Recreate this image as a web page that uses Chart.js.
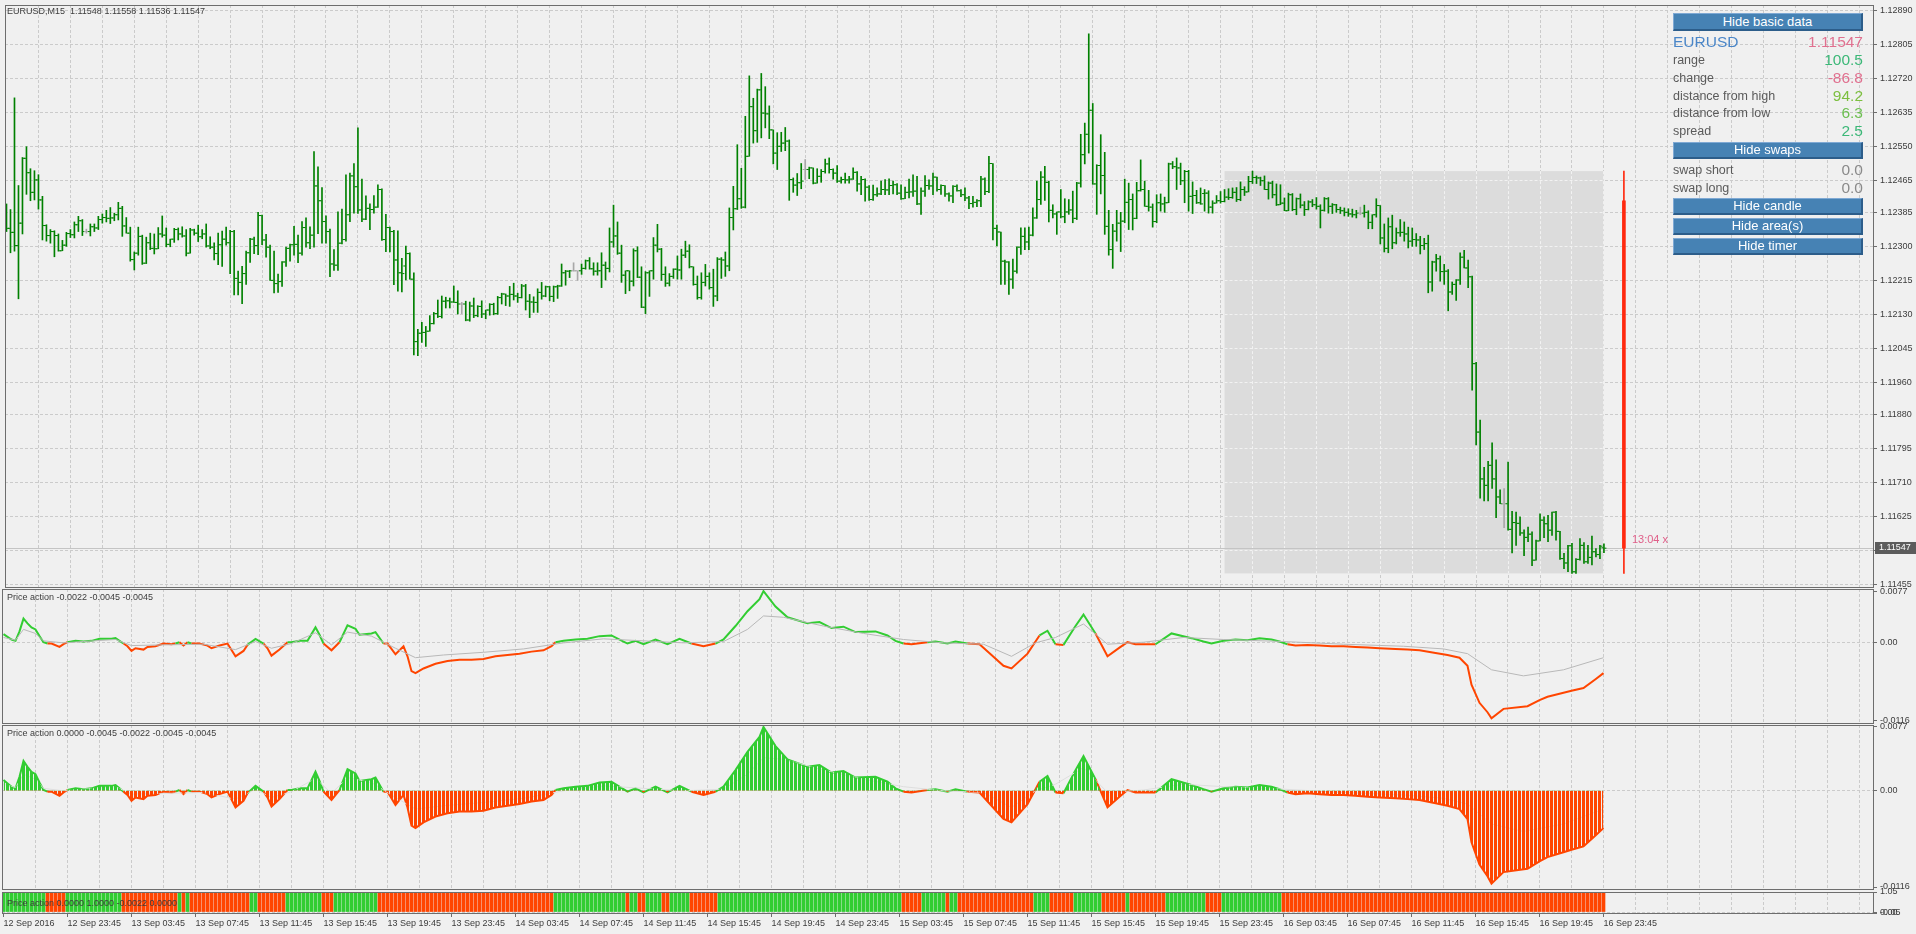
<!DOCTYPE html>
<html>
<head>
<meta charset="utf-8">
<title>EURUSD,M15</title>
<script src="https://cdn.jsdelivr.net/npm/chart.js@4.4.0/dist/chart.umd.min.js"></script>
<style>
  body { margin: 0; width: 1916px; height: 934px; overflow: hidden; background: #f0f0f0;
         font-family: "Liberation Sans", Arial, sans-serif; position: relative; }
  canvas { position: absolute; left: 0; }
  .t { position: absolute; left: 7px; font-size: 9px; line-height: 10px; color: #3c3c3c; white-space: pre; }
  .btn { position: absolute; left: 1673px; width: 190px; box-sizing: border-box; background: #4682b4; color: #fff;
         font-size: 13px; text-align: center; border-top: 1px solid #7fa9d4; border-left: 1px solid #7fa9d4;
         border-bottom: 2px solid #2c5d8a; border-right: 2px solid #2c5d8a; }
  .il { position: absolute; left: 1673px; font-size: 12.5px; line-height: 14px; color: #5a5a5a; white-space: nowrap; }
  .iv { position: absolute; right: 53px; font-size: 15.5px; line-height: 17px; text-align: right; white-space: nowrap; }
</style>
</head>
<body>
<canvas id="cMain" width="1916" height="600" style="top:0"></canvas>
<canvas id="cPa1" width="1916" height="150" style="top:580px"></canvas>
<canvas id="cPa2" width="1916" height="180" style="top:716px"></canvas>
<canvas id="cStrip" width="1916" height="54" style="top:880px"></canvas>

<div class="t" style="top:6px">EURUSD,M15  1.11548 1.11558 1.11536 1.11547</div>
<div class="t" style="top:592px">Price action -0.0022 -0.0045 -0.0045</div>
<div class="t" style="top:728px">Price action 0.0000 -0.0045 -0.0022 -0.0045 -0.0045</div>
<div class="t" style="top:898px">Price action 0.0000 1.0000 -0.0022 0.0000</div>

<div class="btn" style="top:13px;height:18px;line-height:15px">Hide basic data</div>
<div class="il" style="top:33px;font-size:15.5px;line-height:17px;color:#4a86c8">EURUSD</div>
<div class="iv" style="top:33px;color:#e0708f">1.11547</div>
<div class="il" style="top:53px">range</div>
<div class="iv" style="top:51px;color:#3cb878">100.5</div>
<div class="il" style="top:71px">change</div>
<div class="iv" style="top:69px;color:#e0708f">-86.8</div>
<div class="il" style="top:89px">distance from high</div>
<div class="iv" style="top:87px;color:#7cbf3f">94.2</div>
<div class="il" style="top:106px">distance from low</div>
<div class="iv" style="top:104px;color:#6cbf50">6.3</div>
<div class="il" style="top:124px">spread</div>
<div class="iv" style="top:122px;color:#3cb878">2.5</div>
<div class="btn" style="top:142px;height:17px;line-height:14px">Hide swaps</div>
<div class="il" style="top:163px">swap short</div>
<div class="iv" style="top:161px;color:#8a8a8a">0.0</div>
<div class="il" style="top:181px">swap long</div>
<div class="iv" style="top:179px;color:#8a8a8a">0.0</div>
<div class="btn" style="top:198px;height:17px;line-height:14px">Hide candle</div>
<div class="btn" style="top:218px;height:17px;line-height:14px">Hide area(s)</div>
<div class="btn" style="top:238px;height:17px;line-height:14px">Hide timer</div>

<script>
// ---- data ----
const timeLabels = ['12 Sep 2016','12 Sep 23:45','13 Sep 03:45','13 Sep 07:45','13 Sep 11:45','13 Sep 15:45',
  '13 Sep 19:45','13 Sep 23:45','14 Sep 03:45','14 Sep 07:45','14 Sep 11:45','14 Sep 15:45','14 Sep 19:45',
  '14 Sep 23:45','15 Sep 03:45','15 Sep 07:45','15 Sep 11:45','15 Sep 15:45','15 Sep 19:45','15 Sep 23:45',
  '16 Sep 03:45','16 Sep 07:45','16 Sep 11:45','16 Sep 15:45','16 Sep 19:45','16 Sep 23:45'];

const priceTicks = [1.12890,1.12805,1.12720,1.12635,1.12550,1.12465,1.12385,1.12300,1.12215,1.12130,
  1.12045,1.11960,1.11880,1.11795,1.11710,1.11625,1.11540,1.11455];
const paTicks = [0.0077, 0, -0.0116];
const stripTicks = [1.05, 0, -0.05];

// M15 bars, 12 Sep 19:45 .. 16 Sep 23:45
const barHigh = [
1.12407,1.12393,1.12672,1.12453,1.12523,1.12550,1.12495,1.12490,1.12480,1.12426,1.12355,1.12343,1.12340,1.12332,1.12316,1.12336,
1.12343,1.12362,1.12376,1.12368,1.12344,1.12357,1.12357,1.12376,1.12382,1.12391,1.12398,1.12384,1.12411,1.12401,1.12373,1.12349,
1.12287,1.12349,1.12329,1.12324,1.12334,1.12332,1.12348,1.12377,1.12347,1.12319,1.12346,1.12347,1.12350,1.12343,1.12346,1.12344,
1.12354,1.12343,1.12357,1.12325,1.12310,1.12334,1.12339,1.12349,1.12341,1.12341,1.12239,1.12251,1.12289,1.12321,1.12324,1.12386,
1.12379,1.12331,1.12304,1.12289,1.12232,1.12263,1.12299,1.12307,1.12351,1.12329,1.12363,1.12372,1.12350,1.12538,1.12500,1.12448,
1.12377,1.12344,1.12293,1.12387,1.12394,1.12480,1.12484,1.12508,1.12597,1.12469,1.12427,1.12407,1.12428,1.12455,1.12445,1.12381,
1.12349,1.12341,1.12340,1.12271,1.12302,1.12285,1.12235,1.12094,1.12111,1.12101,1.12128,1.12136,1.12167,1.12177,1.12174,1.12172,
1.12202,1.12190,1.12161,1.12164,1.12162,1.12172,1.12153,1.12165,1.12142,1.12158,1.12159,1.12176,1.12184,1.12182,1.12201,1.12209,
1.12184,1.12206,1.12206,1.12181,1.12175,1.12195,1.12211,1.12202,1.12201,1.12202,1.12204,1.12257,1.12241,1.12241,1.12260,1.12240,
1.12257,1.12267,1.12273,1.12260,1.12260,1.12285,1.12262,1.12347,1.12404,1.12362,1.12304,1.12240,1.12240,1.12295,1.12300,1.12250,
1.12238,1.12240,1.12323,1.12356,1.12296,1.12250,1.12233,1.12245,1.12277,1.12294,1.12314,1.12305,1.12250,1.12227,1.12235,1.12256,
1.12235,1.12244,1.12273,1.12273,1.12287,1.12397,1.12451,1.12555,1.12496,1.12626,1.12727,1.12671,1.12694,1.12733,1.12700,1.12652,
1.12592,1.12585,1.12586,1.12598,1.12567,1.12472,1.12483,1.12508,1.12518,1.12499,1.12497,1.12495,1.12493,1.12519,1.12522,1.12495,
1.12503,1.12474,1.12484,1.12476,1.12497,1.12488,1.12476,1.12470,1.12453,1.12454,1.12447,1.12464,1.12468,1.12470,1.12464,1.12458,
1.12455,1.12449,1.12469,1.12480,1.12476,1.12447,1.12478,1.12467,1.12484,1.12474,1.12455,1.12453,1.12435,1.12453,1.12455,1.12443,
1.12447,1.12426,1.12426,1.12418,1.12476,1.12472,1.12526,1.12508,1.12354,1.12337,1.12267,1.12263,1.12269,1.12300,1.12347,1.12347,
1.12349,1.12397,1.12464,1.12488,1.12501,1.12464,1.12405,1.12387,1.12443,1.12420,1.12418,1.12439,1.12461,1.12581,1.12609,1.12832,
1.12658,1.12505,1.12580,1.12536,1.12391,1.12356,1.12391,1.12386,1.12469,1.12459,1.12432,1.12461,1.12517,1.12464,1.12441,1.12407,
1.12430,1.12432,1.12424,1.12509,1.12513,1.12522,1.12509,1.12491,1.12491,1.12462,1.12441,1.12447,1.12443,1.12440,1.12415,1.12428,
1.12438,1.12443,1.12445,1.12447,1.12448,1.12462,1.12450,1.12476,1.12489,1.12477,1.12474,1.12477,1.12462,1.12464,1.12457,1.12455,
1.12422,1.12434,1.12433,1.12422,1.12432,1.12413,1.12415,1.12418,1.12423,1.12405,1.12423,1.12423,1.12408,1.12406,1.12399,1.12397,
1.12395,1.12394,1.12391,1.12399,1.12404,1.12390,1.12380,1.12420,1.12403,1.12357,1.12372,1.12379,1.12347,1.12368,1.12362,1.12349,
1.12347,1.12333,1.12326,1.12321,1.12329,1.12264,1.12281,1.12277,1.12256,1.12243,1.12212,1.12218,1.12285,1.12291,1.12267,1.12227,
1.12011,1.11867,1.11749,1.11764,1.11810,1.11768,1.11693,1.11696,1.11762,1.11639,1.11637,1.11625,1.11593,1.11600,1.11588,1.11567,
1.11633,1.11625,1.11629,1.11637,1.11639,1.11589,1.11534,1.11554,1.11559,1.11521,1.11571,1.11561,1.11554,1.11577,1.11546,1.11554,
1.11558];

const barLow = [
1.12338,1.12285,1.12289,1.12170,1.12332,1.12431,1.12415,1.12417,1.12394,1.12317,1.12314,1.12309,1.12275,1.12289,1.12290,1.12301,
1.12323,1.12322,1.12338,1.12328,1.12334,1.12327,1.12338,1.12343,1.12359,1.12362,1.12358,1.12365,1.12367,1.12326,1.12334,1.12264,
1.12242,1.12279,1.12256,1.12258,1.12293,1.12282,1.12295,1.12324,1.12300,1.12300,1.12311,1.12317,1.12324,1.12277,1.12284,1.12329,
1.12313,1.12320,1.12299,1.12295,1.12267,1.12255,1.12251,1.12304,1.12233,1.12180,1.12180,1.12158,1.12206,1.12261,1.12283,1.12280,
1.12305,1.12274,1.12216,1.12185,1.12186,1.12201,1.12251,1.12264,1.12279,1.12260,1.12279,1.12299,1.12295,1.12299,1.12333,1.12309,
1.12309,1.12225,1.12241,1.12241,1.12307,1.12314,1.12363,1.12384,1.12383,1.12363,1.12368,1.12343,1.12384,1.12398,1.12316,1.12288,
1.12287,1.12205,1.12189,1.12187,1.12217,1.12219,1.12030,1.12028,1.12061,1.12051,1.12089,1.12107,1.12123,1.12122,1.12147,1.12147,
1.12161,1.12132,1.12133,1.12115,1.12114,1.12123,1.12125,1.12123,1.12120,1.12129,1.12130,1.12131,1.12157,1.12153,1.12151,1.12167,
1.12161,1.12172,1.12142,1.12123,1.12136,1.12136,1.12169,1.12175,1.12165,1.12163,1.12171,1.12201,1.12204,1.12223,1.12239,1.12216,
1.12231,1.12244,1.12244,1.12229,1.12229,1.12198,1.12217,1.12237,1.12299,1.12281,1.12211,1.12183,1.12190,1.12202,1.12223,1.12148,
1.12133,1.12176,1.12219,1.12287,1.12216,1.12201,1.12202,1.12221,1.12219,1.12219,1.12273,1.12247,1.12204,1.12169,1.12169,1.12202,
1.12194,1.12151,1.12165,1.12221,1.12226,1.12240,1.12342,1.12393,1.12396,1.12397,1.12526,1.12559,1.12561,1.12572,1.12597,1.12570,
1.12507,1.12493,1.12538,1.12540,1.12416,1.12436,1.12428,1.12445,1.12468,1.12470,1.12457,1.12459,1.12461,1.12484,1.12484,1.12469,
1.12461,1.12459,1.12459,1.12459,1.12468,1.12439,1.12430,1.12414,1.12416,1.12416,1.12426,1.12430,1.12430,1.12430,1.12432,1.12430,
1.12418,1.12420,1.12422,1.12426,1.12405,1.12381,1.12426,1.12443,1.12430,1.12439,1.12431,1.12426,1.12414,1.12410,1.12439,1.12425,
1.12415,1.12395,1.12399,1.12400,1.12400,1.12430,1.12435,1.12317,1.12302,1.12206,1.12206,1.12181,1.12196,1.12234,1.12281,1.12293,
1.12293,1.12327,1.12371,1.12406,1.12416,1.12362,1.12372,1.12331,1.12372,1.12360,1.12381,1.12360,1.12368,1.12449,1.12507,1.12534,
1.12456,1.12381,1.12432,1.12331,1.12279,1.12246,1.12314,1.12288,1.12360,1.12343,1.12342,1.12370,1.12439,1.12401,1.12389,1.12349,
1.12360,1.12389,1.12386,1.12410,1.12495,1.12443,1.12455,1.12410,1.12389,1.12383,1.12408,1.12406,1.12389,1.12384,1.12384,1.12409,
1.12409,1.12412,1.12418,1.12421,1.12413,1.12415,1.12428,1.12437,1.12458,1.12458,1.12453,1.12443,1.12419,1.12422,1.12403,1.12405,
1.12390,1.12390,1.12390,1.12380,1.12397,1.12378,1.12392,1.12400,1.12394,1.12347,1.12389,1.12384,1.12383,1.12386,1.12383,1.12377,
1.12376,1.12374,1.12372,1.12380,1.12374,1.12345,1.12345,1.12374,1.12307,1.12287,1.12285,1.12295,1.12307,1.12326,1.12314,1.12297,
1.12301,1.12301,1.12282,1.12293,1.12185,1.12189,1.12239,1.12214,1.12206,1.12140,1.12181,1.12166,1.12206,1.12247,1.12198,1.11942,
1.11805,1.11672,1.11665,1.11665,1.11696,1.11623,1.11658,1.11598,1.11592,1.11535,1.11554,1.11579,1.11528,1.11563,1.11503,1.11517,
1.11565,1.11573,1.11563,1.11579,1.11567,1.11519,1.11496,1.11488,1.11484,1.11484,1.11517,1.11509,1.11509,1.11505,1.11525,1.11521,
1.11536];

const barOpen = [
1.12347,1.12346,1.12336,1.12303,1.12359,1.12521,1.12485,1.12436,1.12467,1.12417,1.12353,1.12328,1.12338,1.12328,1.12290,1.12304,
1.12333,1.12330,1.12355,1.12365,1.12338,1.12338,1.12350,1.12347,1.12368,1.12373,1.12371,1.12372,1.12380,1.12396,1.12352,1.12334,
1.12268,1.12284,1.12326,1.12259,1.12310,1.12296,1.12295,1.12332,1.12329,1.12306,1.12319,1.12343,1.12332,1.12327,1.12284,1.12342,
1.12334,1.12325,1.12332,1.12302,1.12299,1.12283,1.12305,1.12319,1.12310,1.12338,1.12221,1.12211,1.12233,1.12285,1.12319,1.12303,
1.12378,1.12317,1.12299,1.12216,1.12208,1.12213,1.12262,1.12296,1.12305,1.12306,1.12284,1.12348,1.12310,1.12329,1.12452,1.12415,
1.12363,1.12338,1.12257,1.12254,1.12309,1.12318,1.12380,1.12477,1.12450,1.12392,1.12369,1.12396,1.12393,1.12399,1.12443,1.12318,
1.12348,1.12338,1.12267,1.12235,1.12252,1.12283,1.12219,1.12063,1.12084,1.12086,1.12089,1.12108,1.12133,1.12126,1.12164,1.12165,
1.12162,1.12161,1.12157,1.12157,1.12117,1.12152,1.12128,1.12151,1.12132,1.12142,1.12156,1.12133,1.12173,1.12182,1.12177,1.12181,
1.12177,1.12173,1.12202,1.12164,1.12162,1.12161,1.12186,1.12177,1.12200,1.12176,1.12200,1.12202,1.12235,1.12239,1.12240,1.12240,
1.12240,1.12246,1.12265,1.12245,1.12239,1.12240,1.12254,1.12246,1.12312,1.12327,1.12284,1.12229,1.12240,1.12214,1.12290,1.12224,
1.12149,1.12235,1.12240,1.12304,1.12294,1.12231,1.12209,1.12226,1.12244,1.12242,1.12279,1.12289,1.12250,1.12206,1.12173,1.12211,
1.12226,1.12198,1.12177,1.12269,1.12267,1.12252,1.12373,1.12395,1.12420,1.12399,1.12526,1.12650,1.12590,1.12692,1.12634,1.12632,
1.12592,1.12534,1.12551,1.12559,1.12564,1.12468,1.12454,1.12460,1.12493,1.12493,1.12497,1.12459,1.12476,1.12488,1.12507,1.12493,
1.12484,1.12464,1.12468,1.12467,1.12469,1.12486,1.12457,1.12468,1.12449,1.12418,1.12430,1.12432,1.12443,1.12442,1.12453,1.12455,
1.12434,1.12420,1.12436,1.12437,1.12439,1.12407,1.12439,1.12453,1.12452,1.12474,1.12443,1.12453,1.12432,1.12427,1.12451,1.12440,
1.12430,1.12422,1.12408,1.12411,1.12415,1.12469,1.12438,1.12508,1.12346,1.12337,1.12264,1.12262,1.12219,1.12239,1.12299,1.12326,
1.12312,1.12329,1.12372,1.12418,1.12474,1.12461,1.12391,1.12382,1.12387,1.12375,1.12387,1.12392,1.12371,1.12459,1.12530,1.12581,
1.12641,1.12457,1.12503,1.12478,1.12351,1.12293,1.12339,1.12359,1.12364,1.12411,1.12418,1.12371,1.12440,1.12443,1.12401,1.12399,
1.12363,1.12410,1.12407,1.12410,1.12507,1.12500,1.12497,1.12465,1.12488,1.12426,1.12428,1.12410,1.12433,1.12434,1.12399,1.12409,
1.12415,1.12413,1.12424,1.12423,1.12436,1.12418,1.12443,1.12437,1.12463,1.12473,1.12472,1.12465,1.12443,1.12459,1.12430,1.12405,
1.12409,1.12390,1.12430,1.12393,1.12420,1.12404,1.12393,1.12412,1.12405,1.12401,1.12391,1.12420,1.12401,1.12405,1.12393,1.12390,
1.12386,1.12382,1.12380,1.12384,1.12384,1.12386,1.12361,1.12380,1.12403,1.12322,1.12296,1.12350,1.12310,1.12335,1.12336,1.12332,
1.12314,1.12318,1.12317,1.12303,1.12308,1.12212,1.12262,1.12270,1.12238,1.12239,1.12187,1.12206,1.12217,1.12274,1.12247,1.12225,
1.12008,1.11837,1.11720,1.11704,1.11754,1.11720,1.11675,1.11658,1.11658,1.11594,1.11611,1.11609,1.11585,1.11574,1.11582,1.11517,
1.11565,1.11617,1.11608,1.11592,1.11637,1.11589,1.11521,1.11510,1.11553,1.11488,1.11519,1.11554,1.11513,1.11524,1.11538,1.11531,
1.11548];

const barClose = [
1.12346,1.12336,1.12303,1.12359,1.12521,1.12485,1.12436,1.12467,1.12417,1.12353,1.12328,1.12338,1.12328,1.12290,1.12304,1.12333,
1.12330,1.12355,1.12365,1.12338,1.12338,1.12350,1.12347,1.12368,1.12373,1.12371,1.12372,1.12380,1.12396,1.12352,1.12334,1.12268,
1.12284,1.12326,1.12259,1.12310,1.12296,1.12295,1.12332,1.12329,1.12306,1.12319,1.12343,1.12332,1.12327,1.12284,1.12342,1.12334,
1.12325,1.12332,1.12302,1.12299,1.12283,1.12305,1.12319,1.12310,1.12338,1.12221,1.12211,1.12233,1.12285,1.12319,1.12303,1.12378,
1.12317,1.12299,1.12216,1.12208,1.12213,1.12262,1.12296,1.12305,1.12306,1.12284,1.12348,1.12310,1.12329,1.12452,1.12415,1.12363,
1.12338,1.12257,1.12254,1.12309,1.12318,1.12380,1.12477,1.12450,1.12392,1.12369,1.12396,1.12393,1.12399,1.12443,1.12318,1.12348,
1.12338,1.12267,1.12235,1.12233,1.12283,1.12219,1.12063,1.12084,1.12086,1.12089,1.12108,1.12133,1.12126,1.12164,1.12165,1.12162,
1.12161,1.12157,1.12157,1.12117,1.12152,1.12128,1.12151,1.12132,1.12142,1.12156,1.12133,1.12173,1.12182,1.12177,1.12181,1.12177,
1.12173,1.12202,1.12164,1.12162,1.12161,1.12186,1.12177,1.12200,1.12176,1.12200,1.12202,1.12235,1.12239,1.12240,1.12240,1.12240,
1.12246,1.12265,1.12245,1.12239,1.12240,1.12254,1.12246,1.12312,1.12327,1.12284,1.12229,1.12240,1.12214,1.12290,1.12224,1.12149,
1.12235,1.12240,1.12304,1.12294,1.12231,1.12209,1.12226,1.12244,1.12242,1.12279,1.12289,1.12250,1.12206,1.12173,1.12211,1.12226,
1.12198,1.12177,1.12269,1.12267,1.12252,1.12373,1.12395,1.12420,1.12399,1.12526,1.12650,1.12590,1.12692,1.12634,1.12632,1.12592,
1.12534,1.12551,1.12559,1.12564,1.12468,1.12454,1.12460,1.12464,1.12493,1.12497,1.12459,1.12476,1.12488,1.12507,1.12493,1.12484,
1.12464,1.12468,1.12467,1.12469,1.12486,1.12457,1.12468,1.12449,1.12418,1.12430,1.12432,1.12443,1.12442,1.12453,1.12455,1.12434,
1.12420,1.12436,1.12437,1.12439,1.12407,1.12439,1.12453,1.12452,1.12474,1.12443,1.12453,1.12432,1.12427,1.12451,1.12440,1.12430,
1.12422,1.12408,1.12411,1.12415,1.12469,1.12438,1.12508,1.12346,1.12337,1.12264,1.12262,1.12219,1.12239,1.12299,1.12326,1.12312,
1.12329,1.12372,1.12418,1.12474,1.12461,1.12391,1.12382,1.12387,1.12375,1.12387,1.12392,1.12371,1.12459,1.12530,1.12581,1.12641,
1.12457,1.12503,1.12478,1.12351,1.12293,1.12339,1.12359,1.12364,1.12411,1.12418,1.12371,1.12440,1.12443,1.12401,1.12399,1.12363,
1.12410,1.12407,1.12410,1.12507,1.12500,1.12497,1.12465,1.12488,1.12426,1.12428,1.12410,1.12407,1.12434,1.12399,1.12409,1.12415,
1.12413,1.12424,1.12423,1.12436,1.12418,1.12443,1.12437,1.12463,1.12473,1.12472,1.12465,1.12443,1.12459,1.12430,1.12405,1.12409,
1.12390,1.12430,1.12393,1.12420,1.12404,1.12393,1.12412,1.12405,1.12401,1.12391,1.12420,1.12401,1.12405,1.12393,1.12390,1.12386,
1.12382,1.12380,1.12384,1.12384,1.12386,1.12361,1.12380,1.12403,1.12322,1.12296,1.12350,1.12310,1.12335,1.12336,1.12332,1.12314,
1.12318,1.12317,1.12303,1.12308,1.12212,1.12262,1.12270,1.12238,1.12239,1.12187,1.12206,1.12217,1.12274,1.12247,1.12225,1.12008,
1.11837,1.11720,1.11704,1.11754,1.11720,1.11675,1.11658,1.11658,1.11594,1.11611,1.11609,1.11585,1.11574,1.11582,1.11517,1.11565,
1.11617,1.11608,1.11592,1.11637,1.11589,1.11521,1.11510,1.11553,1.11488,1.11519,1.11554,1.11513,1.11524,1.11538,1.11531,1.11552,
1.11547];

// daily candle (16 Sep) and its range box
const dayOpen = 1.12415, dayHigh = 1.12489, dayLow = 1.11484, dayClose = 1.11547;
const timerText = '13:04 x';

// "Price action" indicator: main line (bar index, value) and signal line
const paBars = [0,2,3,4,5,6,7,8,9,10, 11,12,14,15,16,18,20,22,24,27, 28,29,30,31,32,33,35,36,38,40,
  42,43,44,45,46,47,49,51,52,54, 56,58,60,61,63,65,66,67,69,71, 72,74,76,78,79,80,82,84,86,88,
  89,92,93,95,96,98,100,101,102,103, 105,108,111,114,117,120,123,126,129,132, 135,137,138,140,143,146,149,152,155,156,
  158,160,163,166,169,172,175,178,180,183, 186,189,190,193,196,201,204,207,210,213, 218,221,223,225,227,231,233,236,238,241,
  244,247,250,252,256,259,261,263,265,268, 270,273,276,279,281,283,288,292,297,300, 302,305,308,311,314,317,319,321,323,326,
  329,332,335,338,341,344,348,351,354,358, 361,364,366,367,369,371,372,375,381,384, 386,390,392,395,398,400];
const paValues = [
  0.0013,0.0005,0.0003,0.0017,0.0036,0.0029,0.0023,0.0020,0.0010,0.0001,
  -0.0001,-0.0001,-0.0006,-0.0002,0.0001,0.0003,0.0002,0.0003,0.0006,0.0006,
  0.0007,0.0003,-0.0001,-0.0005,-0.0012,-0.0008,-0.0010,-0.0006,-0.0005,-0.0001,
  -0.0002,-0.0001,0.0001,-0.0004,0.0001,-0.0001,-0.0001,-0.0004,-0.0008,-0.0004,
  -0.0001,-0.0020,-0.0012,-0.0003,0.0006,-0.0001,-0.0008,-0.0019,-0.0010,0.0001,
  0.0001,0.0003,0.0003,0.0023,0.0012,-0.0001,-0.0011,0.0001,0.0026,0.0021,
  0.0012,0.0014,0.0016,-0.0001,-0.0001,-0.0017,-0.0005,-0.0020,-0.0042,-0.0045,
  -0.0038,-0.0031,-0.0027,-0.0025,-0.0025,-0.0024,-0.0020,-0.0018,-0.0016,-0.0013,
  -0.0011,-0.0005,0.0001,0.0003,0.0005,0.0006,0.0010,0.0011,0.0002,-0.0001,
  0.0003,-0.0002,0.0005,-0.0002,0.0006,-0.0001,-0.0005,-0.0001,0.0005,0.0025,
  0.0047,0.0065,0.0077,0.0054,0.0038,0.0029,0.0031,0.0022,0.0024,0.0016,
  0.0017,0.0011,0.0003,-0.0001,-0.0002,0.0001,0.0002,-0.0001,0.0002,-0.0001,
  -0.0002,-0.0018,-0.0034,-0.0038,-0.0016,0.0011,0.0018,-0.0002,-0.0003,0.0025,
  0.0042,0.0014,-0.0020,-0.0007,0.0001,-0.0002,-0.0002,0.0014,0.0007,0.0002,
  -0.0001,0.0003,0.0005,0.0004,0.0007,0.0005,0.0002,-0.0002,-0.0004,-0.0003,
  -0.0004,-0.0005,-0.0005,-0.0006,-0.0007,-0.0008,-0.0009,-0.0010,-0.0011,-0.0015,
  -0.0018,-0.0022,-0.0034,-0.0062,-0.0089,-0.0103,-0.0112,-0.0098,-0.0094,-0.0085,
  -0.0080,-0.0074,-0.0071,-0.0067,-0.0054,-0.0045];
const sigBars = [0,3,5,8,10,15,20,28,32,40,50,58,63,67,72,78,82,86,92,98,103,110,120,130,140,150,160,170,180,186,
  190,195,205,215,225,235,245,252,258,263,270,276,285,295,305,320,335,350,360,366,372,380,390,400];
const sigValues = [0.0008,0.0004,0.0020,0.0014,0.0003,0,0.0002,0.0005,-0.0004,-0.0003,-0.0002,-0.0010,0.0002,-0.0008,-0.0001,0.0015,-0.0003,0.0016,0.0010,-0.0008,-0.0022,-0.0018,-0.0014,-0.0009,0,0.0006,0.0003,0,0.0002,0.0020,
  0.0040,0.0038,0.0025,0.0014,0.0005,0,-0.0002,-0.0020,0,0.0008,0.0028,-0.0002,0.0001,0.0008,0.0005,0.0002,-0.0002,-0.0005,-0.0009,-0.0016,-0.0040,-0.0049,-0.0040,-0.0022];

// colour strip, one entry per bar (1 = up / green, 0 = down / red)
const stripUp = [
1,1,1,1,1,1,1,1,1,1,1,0,0,0,0,0, 1,1,1,1,1,1,1,1,1,1,1,1,1,1,0,0,
0,0,0,0,0,0,0,0,0,0,0,0,1,0,1,0, 0,0,0,0,0,0,0,0,0,0,0,0,0,0,1,1,
0,0,0,0,0,0,0,1,1,1,1,1,1,1,1,1, 0,0,0,1,1,1,1,1,1,1,1,1,1,1,0,0,
0,0,0,0,0,0,0,0,0,0,0,0,0,0,0,0, 0,0,0,0,0,0,0,0,0,0,0,0,0,0,0,0,
0,0,0,0,0,0,0,0,0,0,1,1,1,1,1,1, 1,1,1,1,1,1,1,1,1,1,1,1,0,1,1,0,
0,1,1,1,1,0,0,1,1,1,1,1,0,0,0,0, 0,0,0,1,1,1,1,1,1,1,1,1,1,1,1,1,
1,1,1,1,1,1,1,1,1,1,1,1,1,1,1,1, 1,1,1,1,1,1,1,1,1,1,1,1,1,1,1,1,
1,0,0,0,0,0,1,1,1,1,1,1,0,1,1,0, 0,0,0,0,0,0,0,0,0,0,0,0,0,0,0,0,
0,0,1,1,1,1,0,0,0,0,0,0,1,1,1,1, 1,1,1,0,0,0,0,0,0,1,0,0,0,0,0,0,
0,0,0,1,1,1,1,1,1,1,1,1,1,0,0,0, 0,1,1,1,1,1,1,1,1,1,1,1,1,1,1,1,
0,0,0,0,0,0,0,0,0,0,0,0,0,0,0,0, 0,0,0,0,0,0,0,0,0,0,0,0,0,0,0,0,
0,0,0,0,0,0,0,0,0,0,0,0,0,0,0,0, 0,0,0,0,0,0,0,0,0,0,0,0,0,0,0,0,
0,0,0,0,0,0,0,0,0,0,0,0,0,0,0,0, 0];

// ---- look ----
const GREEN = '#32cd32', RED = '#ff4500', BAR_GREEN = '#008000', DOJI = '#a8a8a8';
const GRID = '#cbcbcb', FRAME = '#6d6d6d', TEXT = '#3c3c3c';
const X_MIN = -0.375, X_MAX = 467.375;   // 4 px per bar
const GRID_EVERY = 8, LABEL_EVERY = 16;
const AREA_FROM = 305, CANDLE_AT = 405;
const AXIS_W = 43;

Chart.defaults.font.family = '"Liberation Sans", Arial, sans-serif';
Chart.defaults.font.size = 9;
Chart.defaults.color = TEXT;
Chart.defaults.animation = false;
Chart.defaults.events = [];
Chart.defaults.plugins.legend.display = false;
Chart.defaults.plugins.tooltip.enabled = false;

function hasLabel(v) { return v % LABEL_EVERY === 0 && v / LABEL_EVERY < timeLabels.length; }

function xScale(withLabels) {
    return {
        type: 'linear', min: X_MIN, max: X_MAX, offset: false,
        afterBuildTicks: s => {
            const t = [];
            for (let v = withLabels ? 0 : GRID_EVERY; v < X_MAX; v += GRID_EVERY) t.push({ value: v });
            s.ticks = t;
        },
        afterFit: s => {
            s.height = withLabels ? 21 : 0;
            s.paddingLeft = 0; s.paddingRight = 0;
        },
        grid: {
            offset: false, drawTicks: withLabels, tickLength: 4,
            color: c => (c.tick && c.tick.value === 0) ? 'transparent' : GRID,
            tickColor: c => (c.tick && hasLabel(c.tick.value)) ? FRAME : 'transparent'
        },
        border: { display: false, dash: [3, 2] },
        ticks: {
            display: withLabels, autoSkip: false, maxRotation: 0, minRotation: 0, align: 'start', padding: 1,
            callback: v => hasLabel(v) ? timeLabels[v / LABEL_EVERY] : ''
        }
    };
}

function yScale(min, max, ticks, fmt, gridAll) {
    return {
        position: 'right', min: min, max: max,
        afterBuildTicks: s => { s.ticks = ticks.map(v => ({ value: v })); },
        afterFit: s => {
            s.width = AXIS_W;
            s.paddingTop = 0; s.paddingBottom = 0;
        },
        grid: {
            tickLength: 4, tickColor: FRAME,
            color: c => (gridAll || (c.tick && c.tick.value === 0)) ? GRID : 'transparent'
        },
        border: { display: false, dash: [3, 2] },
        ticks: { autoSkip: false, padding: 3, callback: fmt }
    };
}

const framePlugin = {
    id: 'frame',
    afterDraw(chart) {
        const { ctx, chartArea: a } = chart;
        ctx.save();
        ctx.strokeStyle = FRAME;
        ctx.lineWidth = 1;
        ctx.strokeRect(a.left + 0.5, a.top + 0.5, a.right - a.left, a.bottom - a.top);
        ctx.restore();
    }
};

// shaded day range + bid line, under the bars
const areaPlugin = {
    id: 'area',
    beforeDatasetsDraw(chart) {
        const { ctx, chartArea: a, scales: { x, y } } = chart;
        const x0 = x.getPixelForValue(AREA_FROM), x1 = x.getPixelForValue(barClose.length - 1);
        const y0 = y.getPixelForValue(dayHigh), y1 = y.getPixelForValue(dayLow);
        ctx.save();
        ctx.fillStyle = '#dcdcdc';
        ctx.fillRect(x0, y0, x1 - x0, y1 - y0);
        ctx.beginPath();
        ctx.rect(x0, y0, x1 - x0, y1 - y0);
        ctx.clip();
        ctx.strokeStyle = '#f2f2f2';
        ctx.lineWidth = 1;
        ctx.setLineDash([3, 2]);
        x.ticks.forEach(t => {
            const px = Math.round(x.getPixelForValue(t.value) - 0.5) + 0.5;
            ctx.beginPath(); ctx.moveTo(px, y0); ctx.lineTo(px, y1); ctx.stroke();
        });
        y.ticks.forEach(t => {
            const py = Math.round(y.getPixelForValue(t.value) - 0.5) + 0.5;
            ctx.beginPath(); ctx.moveTo(x0, py); ctx.lineTo(x1, py); ctx.stroke();
        });
        ctx.restore();
        // bid line
        const py = Math.round(y.getPixelForValue(dayClose) - 0.5) + 0.5;
        ctx.save();
        ctx.strokeStyle = '#c4c4c4';
        ctx.lineWidth = 1;
        ctx.beginPath(); ctx.moveTo(a.left, py); ctx.lineTo(a.right, py); ctx.stroke();
        ctx.restore();
    },
    afterDraw(chart) {
        const { ctx, chartArea: a, scales: { x, y } } = chart;
        const py = y.getPixelForValue(dayClose);
        ctx.save();
        ctx.fillStyle = '#5c5c5c';
        ctx.fillRect(a.right + 2, Math.round(py) - 6, AXIS_W - 2, 12);
        ctx.fillStyle = '#ffffff';
        ctx.font = '9px "Liberation Sans", Arial, sans-serif';
        ctx.textBaseline = 'middle';
        ctx.fillText(dayClose.toFixed(5), a.right + 6, Math.round(py));
        ctx.fillStyle = '#e0608a';
        ctx.font = '11px "Liberation Sans", Arial, sans-serif';
        ctx.fillText(timerText, x.getPixelForValue(CANDLE_AT) + 8, py - 8);
        ctx.restore();
    }
};

// ---- main price chart ----
const barColors = barClose.map((c, i) => c === barOpen[i] ? DOJI : BAR_GREEN);

new Chart(document.getElementById('cMain'), {
    type: 'bar',
    data: {
        datasets: [
            { type: 'bar', data: barHigh.map((h, i) => ({ x: i, y: [barLow[i], h] })),
              backgroundColor: barColors, barThickness: 1, grouped: false },
            { type: 'line', data: barOpen.map((o, i) => ({ x: i - 0.375, y: o })), showLine: false,
              pointStyle: 'line', pointRadius: 1, pointBorderWidth: 1, pointBorderColor: barColors },
            { type: 'line', data: barClose.map((c, i) => ({ x: i + 0.375, y: c })), showLine: false,
              pointStyle: 'line', pointRadius: 1, pointBorderWidth: 1, pointBorderColor: barColors },
            { type: 'bar', data: [{ x: CANDLE_AT, y: [dayLow, dayHigh] }], backgroundColor: '#ff2a10',
              barThickness: 1, grouped: false },
            { type: 'bar', data: [{ x: CANDLE_AT, y: [dayClose, dayOpen] }], backgroundColor: '#ff2a10',
              barThickness: 3, grouped: false }
        ]
    },
    options: {
        responsive: false,
        layout: { padding: { left: 2, top: 3, right: 0, bottom: 13 } },
        scales: {
            x: xScale(false),
            y: yScale(1.11450, 1.12904, priceTicks, v => v.toFixed(5), true)
        }
    },
    plugins: [areaPlugin, framePlugin]
});

// ---- indicator: line panel ----
const paPoints = paBars.map((b, i) => ({ x: b, y: paValues[i] }));
const sigPoints = sigBars.map((b, i) => ({ x: b, y: sigValues[i] }));
const segColor = c => (c.p0.parsed.y + c.p1.parsed.y) / 2 >= 0 ? GREEN : RED;
const paFmt = v => v === 0 ? '0.00' : v.toFixed(4);

new Chart(document.getElementById('cPa1'), {
    type: 'line',
    data: {
        datasets: [
            { data: sigPoints, borderColor: '#b8b8b8', borderWidth: 1, pointRadius: 0, tension: 0 },
            { data: paPoints, borderColor: GREEN, segment: { borderColor: segColor }, borderWidth: 2,
              pointRadius: 0, tension: 0 }
        ]
    },
    options: {
        responsive: false,
        layout: { padding: { left: 2, top: 9, right: 0, bottom: 7 } },
        scales: { x: xScale(false), y: yScale(-0.0119, 0.0080, paTicks, paFmt, false) }
    },
    plugins: [framePlugin]
});

// ---- indicator: histogram panel ----
const cPa2 = document.getElementById('cPa2');
function stripes(color) {
    const c = document.createElement('canvas');
    c.width = 4; c.height = 1;
    const g = c.getContext('2d');
    g.fillStyle = color;
    g.fillRect(0, 0, 1, 1);
    g.fillRect(2, 0, 2, 1);
    return cPa2.getContext('2d').createPattern(c, 'repeat');
}

new Chart(cPa2, {
    type: 'line',
    data: {
        datasets: [
            { data: paPoints, borderWidth: 0, pointRadius: 0, tension: 0,
              fill: { target: 'origin', above: stripes(GREEN), below: stripes(RED) } },
            { data: sigPoints, borderColor: '#dedede', borderWidth: 1, pointRadius: 0, tension: 0 },
            { data: paPoints, borderColor: GREEN, segment: { borderColor: segColor }, borderWidth: 2,
              pointRadius: 0, tension: 0 }
        ]
    },
    options: {
        responsive: false,
        layout: { padding: { left: 2, top: 9, right: 0, bottom: 7 } },
        scales: { x: xScale(false), y: yScale(-0.01184, 0.00794, paTicks, paFmt, false) }
    },
    plugins: [framePlugin]
});

// ---- colour strip + time axis ----
new Chart(document.getElementById('cStrip'), {
    type: 'bar',
    data: {
        datasets: [
            { data: stripUp.map((u, i) => ({ x: i, y: 1 })), backgroundColor: stripUp.map(u => u ? GREEN : RED),
              barThickness: 3, grouped: false }
        ]
    },
    options: {
        responsive: false,
        layout: { padding: { left: 2, top: 12, right: 0, bottom: 0 } },
        scales: { x: xScale(true), y: yScale(-0.05, 1.05, stripTicks, v => v.toFixed(2), false) }
    },
    plugins: [framePlugin]
});
</script>
</body>
</html>
